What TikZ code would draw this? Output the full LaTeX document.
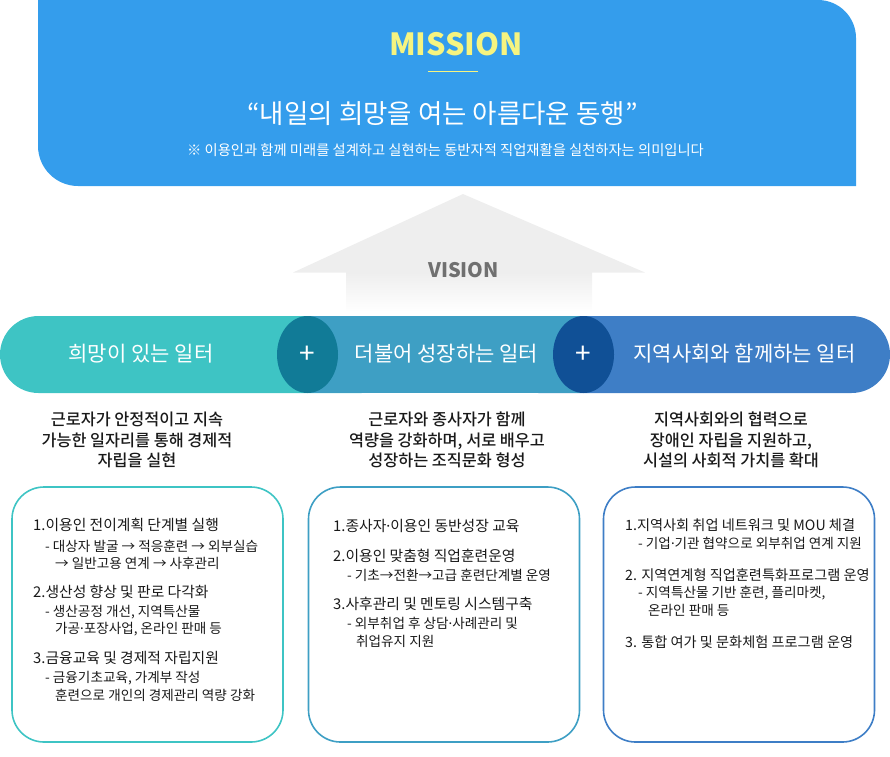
\documentclass[tikz,border=0pt]{standalone}
\usepackage{fontspec}
\setmainfont{Noto Sans CJK KR}
\newfontfamily\krmed{Noto Sans CJK KR Medium}
\newfontfamily\latinf{Noto Sans}
\newcommand{\mdot}{{\latinf ·}}
\usetikzlibrary{shapes.geometric}
\definecolor{bannerblue}{RGB}{52,157,236}
\definecolor{missionyellow}{RGB}{246,244,128}
\definecolor{pillA}{RGB}{62,196,196}
\definecolor{pillB}{RGB}{62,159,196}
\definecolor{pillC}{RGB}{62,126,198}
\definecolor{joinA}{RGB}{17,123,151}
\definecolor{joinB}{RGB}{16,80,150}
\definecolor{arrowgray}{RGB}{238,238,238}
\definecolor{visiongray}{RGB}{112,112,112}
\definecolor{textdark}{RGB}{25,25,25}
\tikzset{
  pilltext/.style={inner sep=0pt, text=white, font=\fontsize{21}{21}\selectfont},
  joinnode/.style={ellipse, inner sep=0pt, minimum width=61pt, minimum height=77pt, text=white, font=\fontsize{28}{28}\selectfont},
  desc/.style={inner sep=0pt, align=center, text=textdark, font=\krmed\fontsize{16.3}{20.5}\selectfont},
  itembox/.style={draw, line width=1.6pt, rounded corners=32pt, minimum width=271pt, minimum height=255pt, inner sep=0pt},
  mainitem/.style={anchor=west, inner sep=0pt, text=textdark, font=\fontsize{14.8}{15}\selectfont},
  mainitemc/.style={anchor=west, inner sep=0pt, text=textdark, font=\fontsize{14.2}{15}\selectfont},
  subitem/.style={anchor=west, inner sep=0pt, text=textdark, font=\fontsize{13.6}{14}\selectfont},
}
\begin{document}
\begin{tikzpicture}[x=1pt,y=-1pt]
\useasboundingbox (0,0) rectangle (890,756);
% mission banner
\fill[bannerblue] (38,0) -- (818,0) .. controls (839,0) and (856,17) .. (856,38)
  -- (856,186) -- (78,186) .. controls (56,186) and (38,168) .. (38,146) -- cycle;
\node[inner sep=0pt, text=missionyellow, font=\fontsize{30.5}{31}\selectfont\bfseries] (mission) at (456,44) {MISSION};
\coordinate (ruleL) at (428,71.5);
\coordinate (ruleR) at (478,71.5);
\draw[missionyellow, line width=1pt] (ruleL) -- (ruleR);
\node[inner sep=0pt, text=white, font=\fontsize{26.5}{27}\selectfont] (quote) at (442.5,114) {“내일의 희망을 여는 아름다운 동행”};
\node[inner sep=0pt, text=white, font=\fontsize{14.3}{15}\selectfont] (note) at (445.5,150) {※ 이용인과 함께 미래를 설계하고 실현하는 동반자적 직업재활을 실천하자는 의미입니다};
% vision arrow
\fill[arrowgray] (463,194) -- (645,272.5) -- (293,272.5) -- cycle;
\shade[top color=arrowgray, bottom color=white] (346,272) rectangle (592,312);
\node[inner sep=0pt, text=visiongray, font=\fontsize{20}{20}\selectfont\bfseries] (vision) at (463.5,270.5) {VISION};
% pills
\fill[pillA, rounded corners=38.5pt] (0,316) rectangle (400,393);
\fill[pillC, rounded corners=38.5pt] (500,316) rectangle (890,393);
\fill[pillB] (308,316) rectangle (584,393);
\node[joinnode, fill=joinA] (plusA) at (307.5,354.5) {+};
\node[joinnode, fill=joinB] (plusB) at (583.5,354.5) {+};
\node[pilltext] (pillone) at (141,354) {희망이 있는 일터};
\node[pilltext] (pilltwo) at (446.5,354) {더불어 성장하는 일터};
\node[pilltext] (pillthree) at (744.5,354) {지역사회와 함께하는 일터};
% descriptions
\node[desc] (descone) at (137,440) {근로자가 안정적이고 지속\\가능한 일자리를 통해 경제적\\자립을 실현};
\node[desc] (desctwo) at (447,440) {근로자와 종사자가 함께\\역량을 강화하며, 서로 배우고\\성장하는 조직문화 형성};
\node[desc] (descthree) at (731,440) {지역사회와의 협력으로\\장애인 자립을 지원하고,\\시설의 사회적 가치를 확대};
% boxes
\node[itembox, draw=pillA] (boxone) at (147.5,614.5) {};
\node[itembox, draw=pillB] (boxtwo) at (444,614.5) {};
\node[itembox, draw=pillC] (boxthree) at (739,614.5) {};
% box one
\node[mainitem] (a1) at (33,525) {1.이용인 전이계획 단계별 실행};
\node[subitem] (a1s) at (45,546) {- 대상자 발굴 → 적응훈련 → 외부실습};
\node[subitem] (a1t) at (55,563) {→ 일반고용 연계 → 사후관리};
\node[mainitem] (a2) at (33,592) {2.생산성 향상 및 판로 다각화};
\node[subitem] (a2s) at (45,612) {- 생산공정 개선, 지역특산물};
\node[subitem] (a2t) at (55,629) {가공\mdot 포장사업, 온라인 판매 등};
\node[mainitem] (a3) at (33,658) {3.금융교육 및 경제적 자립지원};
\node[subitem] (a3s) at (45,678) {- 금융기초교육, 가계부 작성};
\node[subitem] (a3t) at (55,695) {훈련으로 개인의 경제관리 역량 강화};
% box two
\node[mainitem] (b1) at (333,526) {1.종사자\mdot 이용인 동반성장 교육};
\node[mainitem] (b2) at (333,556) {2.이용인 맞춤형 직업훈련운영};
\node[subitem] (b2s) at (347,575) {- 기초→전환→고급 훈련단계별 운영};
\node[mainitem] (b3) at (333,604) {3.사후관리 및 멘토링 시스템구축};
\node[subitem] (b3s) at (347,623) {- 외부취업 후 상담\mdot 사례관리 및};
\node[subitem] (b3t) at (356,641) {취업유지 지원};
% box three
\node[mainitemc] (c1) at (625,525) {1.지역사회 취업 네트워크 및 MOU 체결};
\node[subitem] (c1s) at (638,543) {- 기업\mdot 기관 협약으로 외부취업 연계 지원};
\node[mainitemc] (c2) at (625,575) {2. 지역연계형 직업훈련특화프로그램 운영};
\node[subitem] (c2s) at (638,593) {- 지역특산물 기반 훈련, 플리마켓,};
\node[subitem] (c2t) at (648,610) {온라인 판매 등};
\node[mainitemc] (c3) at (625,642) {3. 통합 여가 및 문화체험 프로그램 운영};
\end{tikzpicture}
\end{document}
